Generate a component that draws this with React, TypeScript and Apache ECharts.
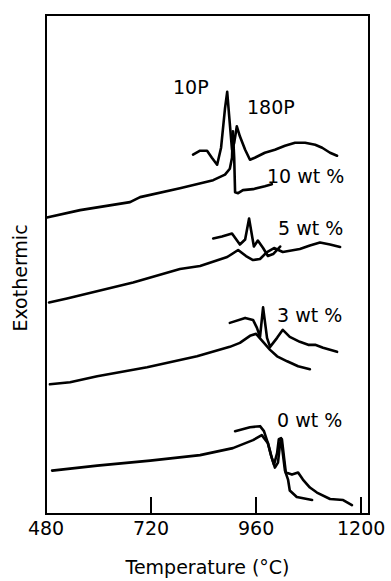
import React, { useEffect, useRef } from "react";
import * as echarts from "echarts";

// Temperature (°C) vs exothermic signal (arbitrary units)
const curve10Long = [
  [482, 59.4], [558, 60.9], [672, 62.5], [695, 63.5], [786, 65.3], [862, 66.9],
  [889, 68.0], [900, 69.2], [905, 71.4], [907, 76.7], [910, 71.4], [912, 64.5],
  [919, 64.3], [930, 64.9], [953, 65.1], [980, 65.7], [996, 66.1],
];
const curve10Short = [
  [816, 72.0], [832, 72.8], [848, 72.8], [859, 71.4], [871, 70.0], [880, 73.4],
  [889, 81.3], [894, 84.6], [898, 80.3], [905, 73.0], [910, 74.4], [916, 77.7],
  [923, 75.7], [935, 73.0], [946, 71.0], [957, 71.4], [980, 72.4], [1003, 73.0],
  [1026, 73.8], [1049, 74.4], [1072, 74.4], [1095, 74.0], [1111, 73.4], [1129, 72.4],
  [1145, 71.8],
];
const curve5Long = [
  [487, 42.4], [528, 43.2], [679, 46.4], [786, 49.1], [832, 49.7], [894, 51.5],
  [919, 52.9], [937, 51.7], [953, 50.9], [969, 51.1], [985, 52.5], [1001, 53.3],
  [1021, 52.5], [1060, 53.1], [1083, 53.8], [1106, 54.4], [1129, 54.0], [1152, 53.5],
];
const curve5Short = [
  [862, 55.2], [882, 55.6], [905, 56.2], [923, 54.0], [935, 55.0], [944, 59.2],
  [951, 55.6], [955, 53.6], [964, 54.8], [976, 53.3], [987, 51.7], [999, 52.1],
  [1015, 53.6],
];
const curve3Long = [
  [489, 26.0], [535, 26.4], [597, 27.6], [711, 29.4], [825, 31.6], [900, 33.5],
  [923, 34.3], [946, 35.7], [960, 36.1], [976, 34.5], [992, 32.9], [1008, 31.6],
  [1031, 30.6], [1056, 29.6], [1083, 29.0],
];
const curve3Short = [
  [900, 38.3], [935, 39.3], [953, 38.9], [962, 37.3], [969, 35.5], [976, 41.4],
  [985, 35.3], [992, 33.5], [1008, 35.3], [1021, 36.9], [1037, 35.5], [1060, 34.5],
  [1079, 33.9], [1095, 33.9], [1113, 33.3], [1145, 32.5],
];
const curve0Long = [
  [494, 8.7], [597, 9.7], [718, 10.7], [832, 11.8], [907, 13.2], [953, 14.8],
  [973, 15.8], [987, 14.2], [996, 11.2], [1003, 9.3], [1010, 10.3], [1015, 14.2],
  [1019, 15.0], [1024, 11.2], [1028, 8.3], [1042, 7.9], [1056, 8.3], [1067, 6.9],
  [1083, 5.3], [1099, 4.3], [1129, 3.0], [1159, 2.8], [1179, 1.8],
];
const curve0Short = [
  [912, 16.6], [946, 17.4], [969, 17.6], [978, 16.6], [987, 14.2], [994, 11.8],
  [1001, 9.9], [1008, 12.2], [1012, 15.0], [1017, 15.2], [1021, 12.2], [1026, 8.7],
  [1033, 6.9], [1037, 4.7], [1053, 3.4], [1088, 2.8],
];

const tickLabels = [480, 720, 960, 1200];
const curveLabels = ["10 wt %", "5 wt %", "3 wt %", "0 wt %"];
const peakLabels = ["10P", "180P"];

const FONT = "DejaVu Sans";

export default function App() {
  const ref = useRef<HTMLDivElement>(null);
  useEffect(() => {
    document.body.style.margin = "0";
    const chart = echarts.init(ref.current!, null, { renderer: "svg" });
    const curves = [
      curve10Long, curve10Short, curve5Long, curve5Short,
      curve3Long, curve3Short, curve0Long, curve0Short,
    ];
    const txt = (text: string, x: number, y: number, extra: any = {}) => ({
      type: "text",
      x,
      y,
      ...extra,
      style: {
        text,
        fill: "#000",
        font: `19px "${FONT}"`,
        align: extra.align || "left",
        verticalAlign: "middle",
      },
    });
    chart.setOption({
      animation: false,
      grid: {
        left: 46, top: 15, width: 323, height: 507,
        show: true, borderColor: "#000", borderWidth: 2,
      },
      xAxis: {
        type: "value",
        min: 480,
        max: 1218,
        interval: 240,
        axisLine: { show: true, lineStyle: { color: "#000", width: 2 } },
        axisTick: { show: true, inside: true, length: 17, lineStyle: { color: "#000", width: 2 } },
        axisLabel: {
          formatter: (v: number) => (tickLabels.includes(v) ? String(v) : ""),
          color: "#000",
          fontSize: 19,
          fontFamily: FONT,
          margin: 4,
        },
        splitLine: { show: false },
        name: "Temperature (°C)",
        nameLocation: "middle",
        nameGap: 43,
        nameTextStyle: { color: "#000", fontSize: 19, fontFamily: FONT },
      },
      yAxis: { type: "value", min: 0, max: 100, show: false },
      series: curves.map((d) => ({
        type: "line",
        data: d,
        showSymbol: false,
        symbol: "none",
        smooth: false,
        lineStyle: { color: "#000", width: 2.6, join: "round", cap: "round" },
      })),
      graphic: [
        txt("Exothermic", 20, 278, { rotation: Math.PI / 2, align: "center" }),
        txt(peakLabels[0], 173, 87),
        txt(peakLabels[1], 247, 107),
        txt(curveLabels[0], 267, 176),
        txt(curveLabels[1], 278, 228),
        txt(curveLabels[2], 277, 315),
        txt(curveLabels[3], 277, 420),
      ],
    });
    return () => chart.dispose();
  }, []);
  return <div ref={ref} style={{ width: 391, height: 581 }} />;
}
